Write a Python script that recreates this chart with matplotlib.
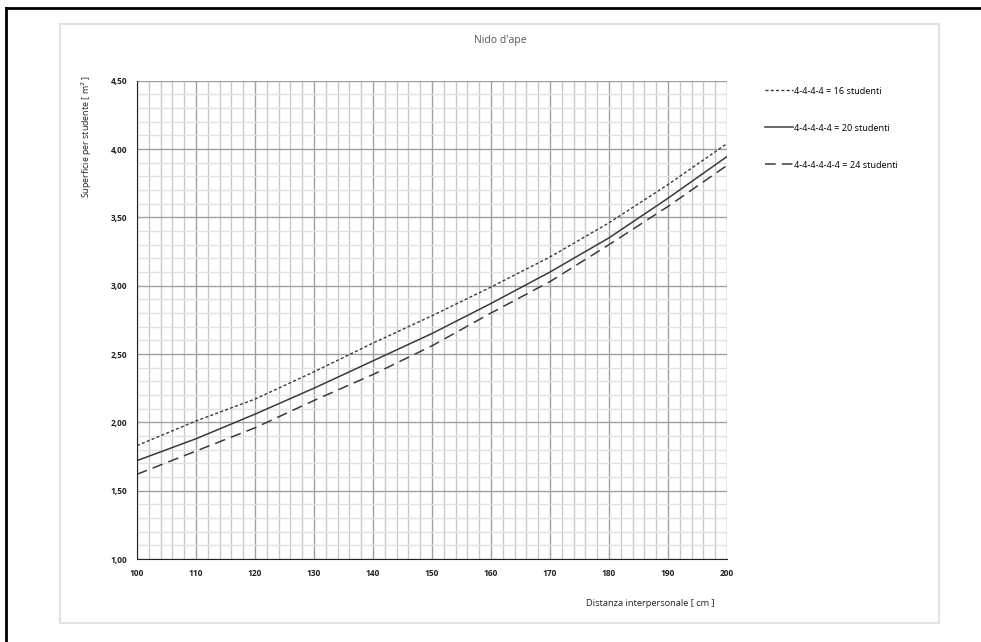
import matplotlib.pyplot as plt
from matplotlib.lines import Line2D
from matplotlib.patches import Rectangle
from matplotlib.ticker import MultipleLocator, FuncFormatter

plt.rcParams['font.family'] = ['Open Sans', 'DejaVu Sans']

distanza = [100, 110, 120, 130, 140, 150, 160, 170, 180, 190, 200]
s16 = [1.83, 2.01, 2.17, 2.37, 2.58, 2.78, 2.99, 3.21, 3.46, 3.74, 4.04]
s20 = [1.72, 1.88, 2.06, 2.25, 2.45, 2.65, 2.87, 3.10, 3.35, 3.64, 3.945]
s24 = [1.62, 1.79, 1.96, 2.16, 2.35, 2.56, 2.80, 3.03, 3.30, 3.58, 3.88]
labels = ["4-4-4-4 = 16 studenti", "4-4-4-4-4 = 20 studenti", "4-4-4-4-4-4 = 24 studenti"]

fig = plt.figure(figsize=(9.81, 6.42), dpi=100)
ax = fig.add_axes([137 / 981, 1 - 559 / 642, 590 / 981, (559 - 80.7) / 642])

line_col = "#3a3a3a"
ax.plot(distanza, s16, color=line_col, lw=1.0, dashes=(2.2, 1.6), label=labels[0])
ax.plot(distanza, s20, color=line_col, lw=1.1, label=labels[1])
ax.plot(distanza, s24, color=line_col, lw=1.1, dashes=(7, 4), label=labels[2])

ax.set_xlim(100, 200)
ax.set_ylim(1.0, 4.5)
ax.xaxis.set_major_locator(MultipleLocator(10))
ax.xaxis.set_minor_locator(MultipleLocator(2))
ax.yaxis.set_major_locator(MultipleLocator(0.5))
ax.yaxis.set_minor_locator(MultipleLocator(0.1))
ax.yaxis.set_major_formatter(FuncFormatter(lambda v, p: f"{v:.2f}".replace(".", ",")))
ax.grid(which="major", color="#a0a0a0", lw=1.0)
ax.xaxis.grid(which="minor", color="#c8c8c8", lw=1.0)
ax.yaxis.grid(which="minor", color="#e2e2e2", lw=1.0)
ax.set_axisbelow(True)
ax.tick_params(which="both", length=0, labelsize=6, pad=7, colors="#222222")
for lab in ax.get_xticklabels() + ax.get_yticklabels():
    lab.set_fontweight("bold")
ax.spines["top"].set_visible(False)
ax.spines["right"].set_visible(False)
ax.spines["left"].set_color("#222222")
ax.spines["bottom"].set_color("#222222")

fig.text(500 / 981, 1 - 40 / 642, "Nido d'ape", ha="center", va="center", fontsize=7.5, color="#555555")
fig.text(87 / 981, 1 - 75 / 642, "Superficie per studente [ m$^2$ ]", rotation=90,
         ha="center", va="top", fontsize=6.4, color="#222222")
fig.text(715 / 981, 1 - 603 / 642, "Distanza interpersonale [ cm ]", ha="right", va="center",
         fontsize=6.7, color="#222222")

ax.legend(loc="upper left", bbox_to_anchor=(760 / 981, 1 - 82 / 642), bbox_transform=fig.transFigure,
          frameon=False, fontsize=6.6, handlelength=3.1, handletextpad=0.1, labelspacing=3.05,
          borderpad=0)

fig.patches.append(Rectangle((60 / 981, 1 - 623 / 642), 879 / 981, 599 / 642, transform=fig.transFigure,
                             fill=False, edgecolor="#e2e2e2", lw=1.5))
fig.lines.append(Line2D([6 / 981, 6 / 981], [0, 1 - 8 / 642], transform=fig.transFigure, color="black", lw=2))
fig.lines.append(Line2D([6 / 981, 1], [1 - 8 / 642, 1 - 8 / 642], transform=fig.transFigure, color="black", lw=2))

fig.savefig("out.png", dpi=100)
